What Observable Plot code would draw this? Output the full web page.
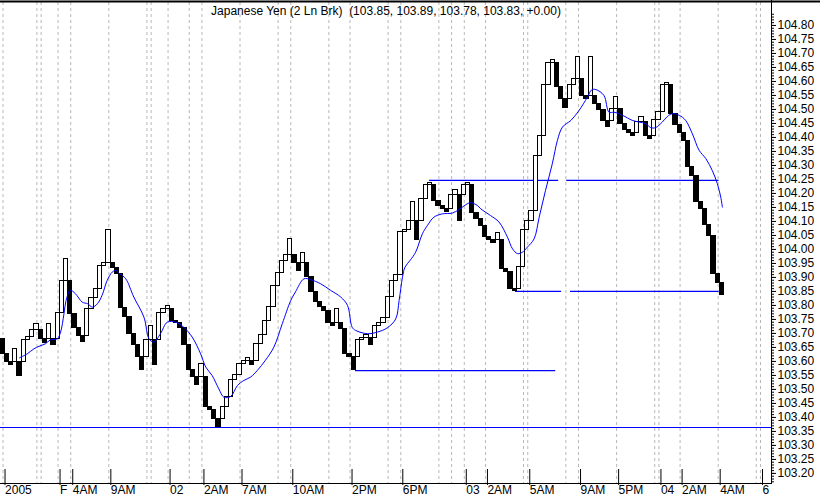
<!DOCTYPE html>
<html>
<head>
<meta charset="utf-8">
<script src="https://cdn.jsdelivr.net/npm/d3@7"></script>
<script src="https://cdn.jsdelivr.net/npm/@observablehq/plot@0.6"></script>
<style>
  body { margin: 0; background: #fff; }
  #chart svg { display: block; }
</style>
</head>
<body>
<div id="chart"></div>
<script>
const title = "Japanese Yen (2 Ln Brk)\u00a0 (103.85, 103.89, 103.78, 103.83, +0.00)";

// two line break closes, one per brick (open of the first brick given)
const firstOpen = 103.679;
const closes = [
  103.627, 103.598, 103.588, 103.645, 103.548, 103.675, 103.687, 103.714, 103.735, 103.679,
  103.667, 103.735, 103.660, 103.774, 103.889, 103.967, 103.770, 103.720, 103.690, 103.669,
  103.786, 103.827, 103.857, 103.940, 103.951, 104.071, 103.933, 103.913, 103.790, 103.758,
  103.699, 103.657, 103.615, 103.568, 103.675, 103.725, 103.586, 103.774, 103.786, 103.798,
  103.746, 103.738, 103.719, 103.657, 103.568, 103.546, 103.517, 103.592, 103.437, 103.425,
  103.395, 103.365, 103.437, 103.472, 103.535, 103.552, 103.592, 103.603, 103.614, 103.586,
  103.663, 103.695, 103.746, 103.796, 103.868, 103.917, 103.958, 103.979, 104.038, 103.951,
  103.922, 103.988, 103.901, 103.847, 103.812, 103.796, 103.779, 103.737, 103.725, 103.786,
  103.717, 103.627, 103.615, 103.570, 103.675, 103.685, 103.695, 103.660, 103.725, 103.737,
  103.756, 103.830, 103.889, 103.907, 104.062, 104.071, 104.100, 104.171, 104.032, 104.181,
  104.229, 104.237, 104.172, 104.155, 104.143, 104.133, 104.193, 104.214, 104.101, 104.229,
  104.238, 104.131, 104.110, 104.083, 104.044, 104.032, 104.022, 104.060, 103.931, 103.921,
  103.860, 103.851, 103.939, 104.071, 104.100, 104.139, 104.332, 104.404, 104.586, 104.667,
  104.675, 104.580, 104.538, 104.506, 104.586, 104.607, 104.687, 104.548, 104.538, 104.687,
  104.518, 104.499, 104.458, 104.437, 104.503, 104.546, 104.449, 104.425, 104.415, 104.405,
  104.455, 104.473, 104.404, 104.393, 104.463, 104.490, 104.586, 104.595, 104.485, 104.446,
  104.415, 104.387, 104.294, 104.264, 104.171, 104.145, 104.089, 104.048, 103.913, 103.880,
  103.836
];

// moving average (brick position, value)
const maPos = [
  4.5, 6.3, 7.9, 9.1, 10.6, 11.8, 13.4, 14.2, 15.0, 15.5, 16.5, 17.7, 19.3, 20.6, 21.7, 22.9,
  24.0, 25.2, 26.4, 27.2, 28.2, 29.6, 31.5, 33.9, 35.1, 36.2, 37.8, 39.4, 41.4, 43.3, 45.3,
  47.3, 48.5, 50.0, 51.6, 52.8, 54.4, 56.0, 57.5, 59.1, 60.7, 62.6, 64.6, 66.6, 68.6, 69.7,
  71.7, 73.3, 75.7, 78.0, 80.4, 82.0, 83.1, 83.9, 86.7, 89.1, 91.4, 93.4, 94.2, 95.0, 95.6,
  96.8, 98.1, 99.7, 100.9, 102.4, 104.4, 106.8, 108.3, 110.3, 111.1, 112.7, 113.5, 115.8,
  117.8, 119.8, 121.0, 122.2, 123.3, 124.5, 126.1, 127.3, 128.8, 130.4, 131.6, 132.8, 134.8,
  136.7, 138.7, 139.7, 140.7, 142.6, 143.8, 145.0, 147.0, 149.3, 150.9, 152.5, 153.7, 154.8,
  156.4, 157.6, 158.8, 160.4, 161.9, 163.5, 165.1, 166.7, 168.2, 169.4, 170.2, 170.6
];
const maVal = [
  103.613, 103.627, 103.645, 103.654, 103.663, 103.677, 103.681, 103.705, 103.770, 103.818,
  103.854, 103.842, 103.812, 103.806, 103.794, 103.806, 103.836, 103.889, 103.919, 103.925,
  103.913, 103.895, 103.830, 103.758, 103.681, 103.669, 103.699, 103.740, 103.740, 103.722,
  103.687, 103.627, 103.580, 103.550, 103.502, 103.472, 103.475, 103.514, 103.532, 103.544,
  103.568, 103.604, 103.651, 103.735, 103.818, 103.848, 103.895, 103.892, 103.877, 103.854,
  103.830, 103.800, 103.722, 103.711, 103.699, 103.705, 103.720, 103.752, 103.818, 103.901,
  103.937, 103.961, 103.990, 104.056, 104.086, 104.115, 104.127, 104.130, 104.142, 104.163,
  104.167, 104.157, 104.145, 104.121, 104.098, 104.044, 104.002, 103.985, 103.990, 104.008,
  104.038, 104.115, 104.211, 104.306, 104.389, 104.437, 104.461, 104.496, 104.544, 104.570,
  104.571, 104.550, 104.490, 104.490, 104.479, 104.461, 104.455, 104.449, 104.435, 104.435,
  104.455, 104.475, 104.485, 104.479, 104.461, 104.413, 104.354, 104.324, 104.282, 104.235,
  104.187, 104.151
];

// drawn support / resistance lines
const lineLevel = [103.364, 103.567, 104.247, 104.247, 103.850, 103.850];
const lineFrom  = [0, 83.9, 101.4, 133.8, 121.7, 134.7];
const lineTo    = [182.2, 131.2, 131.9, 169.8, 132.6, 169.8];

// time axis: brick index of each label
const tickBrick = [0, 13, 16, 25, 39, 47, 56, 68, 82, 94, 109, 114, 124, 136, 145, 155, 160, 169, 179];
const tickText = ["2005", "F", "4AM", "9AM", "02", "2AM", "7AM", "10AM", "2PM", "6PM",
                  "03", "2AM", "5AM", "9AM", "5PM", "04", "2AM", "4AM", "6"];
const extraGrid = [8, 9, 34, 35, 44, 65, 77, 91, 103, 106, 123, 133, 154, 178];

const yMin = 103.164, yMax = 104.882;
const xMax = 182.2;          // right edge of the plot frame
const pxPerBrick = 771 / xMax;
const pxPerUnit = 481 / (yMax - yMin);

// build bricks
const bricks = [];
let hi = firstOpen, lo = firstOpen;
closes.forEach((c, i) => {
  const up = c > hi;
  const open = up ? hi : lo;
  bricks.push({i, open, close: c, up});
  hi = Math.max(open, c);
  lo = Math.min(open, c);
});

const ma = maPos.map((x, k) => ({x, y: maVal[k]}));
const levels = lineLevel.map((y, k) => ({y, x1: lineFrom[k], x2: lineTo[k]}));

const gridPos = tickBrick.concat(extraGrid).map(d => d + 0.6);
const tickPos = tickBrick.map(d => d + 0.6);
const labelOf = new Map(tickPos.map((d, k) => [d, tickText[k]]));

const majors = d3.range(0, 33).map(k => +(103.2 + k * 0.05).toFixed(2));
const minors = d3.range(0, 168).map(k => +(103.17 + k * 0.01).toFixed(2)).filter(v => v < yMax);

const font = "'Liberation Sans', Arial, sans-serif";

const chart = Plot.plot({
  width: 820,
  height: 499,
  marginLeft: 0,
  marginRight: 49,
  marginTop: 2,
  marginBottom: 16,
  style: {fontFamily: font, fontSize: "12px", background: "white", color: "black"},
  x: {domain: [0, xMax], axis: null},
  y: {domain: [yMin, yMax], axis: null},
  marks: [
    Plot.ruleX(gridPos, {x: d => d, stroke: "#b8b8b8", strokeDasharray: "3,3"}),
    Plot.ruleY(levels, {y: "y", x1: "x1", x2: "x2", stroke: "#0000ff", strokeWidth: 1.2}),
    Plot.rect(bricks, {
      x1: "i", x2: d => d.i + 1, y1: "open", y2: "close",
      fill: d => d.up ? "white" : "black", stroke: "black", strokeWidth: 1,
      shapeRendering: "crispEdges"
    }),
    Plot.line(ma, {x: "x", y: "y", stroke: "#0000ff", strokeWidth: 1, curve: "catmull-rom"}),
    // frame: right axis line, bottom line, top border
    Plot.ruleX([xMax], {y1: yMin - 1 / pxPerUnit, y2: yMax + 2 / pxPerUnit, stroke: "black"}),
    Plot.ruleY([yMin], {x1: 0, x2: xMax, stroke: "black"}),
    Plot.ruleY([yMax], {x1: 0, x2: 820 / pxPerBrick, stroke: "black", strokeWidth: 2, dy: -1}),
    // price scale on the right
    Plot.ruleY(minors, {y: d => d, x1: xMax, x2: xMax + 3 / pxPerBrick, stroke: "black"}),
    Plot.ruleY(majors, {y: d => d, x1: xMax, x2: xMax + 5 / pxPerBrick, stroke: "black"}),
    Plot.text(majors, {x: xMax, y: d => d, text: d => d.toFixed(2), textAnchor: "start", dx: 6, fontSize: 12}),
    // time axis
    Plot.axisX(tickPos, {
      anchor: "bottom", tickSize: 16, tickPadding: 0,
      tickFormat: d => labelOf.get(d), textAnchor: "start", dx: 2, dy: -14, fontSize: 12
    }),
    Plot.text([title], {frameAnchor: "top", lineAnchor: "top", dy: 4, fontSize: 12})
  ]
});

d3.select("#chart").append(() => chart);
</script>
</body>
</html>
